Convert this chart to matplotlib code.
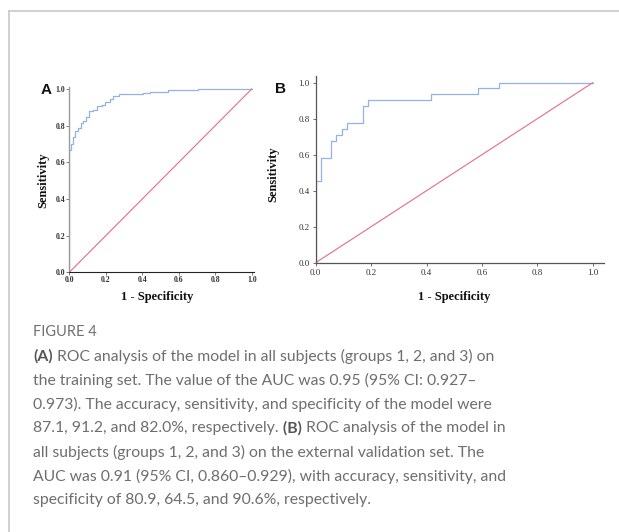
import matplotlib
matplotlib.use("Agg")
import matplotlib.pyplot as plt
from matplotlib.lines import Line2D

W, H = 619, 532

# ---- data ----
fpr_a = [0, 0, 0.009, 0.022, 0.031, 0.05, 0.064, 0.077, 0.089, 0.11, 0.13, 0.15,
         0.178, 0.196, 0.223, 0.241, 0.27, 0.406, 0.44, 0.54, 0.707, 1.0]
tpr_a = [0, 0.666, 0.70, 0.738, 0.77, 0.785, 0.816, 0.825, 0.847, 0.878, 0.885, 0.907,
         0.914, 0.929, 0.947, 0.962, 0.971, 0.976, 0.984, 0.994, 1.0, 1.0]

fpr_b = [0, 0, 0.019, 0.057, 0.075, 0.094, 0.113, 0.170, 0.189, 0.415, 0.585, 0.660, 1.0]
tpr_b = [0, 0.452, 0.581, 0.677, 0.710, 0.742, 0.774, 0.871, 0.903, 0.935, 0.968, 1.0, 1.0]

ref_line = [0, 1]
ticks = [0.0, 0.2, 0.4, 0.6, 0.8, 1.0]
tick_labels = ["0.0", "0.2", "0.4", "0.6", "0.8", "1.0"]

caption_title = "FIGURE 4"
caption_lines = [
    [("(A)", True), (" ROC analysis of the model in all subjects (groups 1, 2, and 3) on", False)],
    [("the training set. The value of the AUC was 0.95 (95% CI: 0.927–", False)],
    [("0.973). The accuracy, sensitivity, and specificity of the model were", False)],
    [("87.1, 91.2, and 82.0%, respectively.", False), (" (B)", True), (" ROC analysis of the model in", False)],
    [("all subjects (groups 1, 2, and 3) on the external validation set. The", False)],
    [("AUC was 0.91 (95% CI, 0.860–0.929), with accuracy, sensitivity, and", False)],
    [("specificity of 80.9, 64.5, and 90.6%, respectively.", False)],
]

CURVE = "#93b3e3"
DIAG = "#ea6b83"
SERIF = ["Liberation Serif", "DejaVu Serif"]

fig = plt.figure(figsize=(W / 100, H / 100), dpi=100)
fig.patch.set_facecolor("white")


def px(x, y):
    return x / W, 1 - y / H


# frame lines
fig.add_artist(Line2D([9 / W, 1.0], [1 - 11 / H, 1 - 11 / H], transform=fig.transFigure,
                      color="#c8c8c8", lw=1.2))
fig.add_artist(Line2D([9 / W, 9 / W], [1 - 11 / H, 0], transform=fig.transFigure,
                      color="#c8c8c8", lw=1.2))

# ---- panel A ----
x0, x1 = 69.3, 251.7
y0, y1 = 272.3, 89.0
xmax_a, ymax_a = 1.012, 1.01
axA = fig.add_axes([x0 / W, 1 - y0 / H, (x1 - x0) * xmax_a / W, (y0 - y1) * ymax_a / H])
axA.step(fpr_a, tpr_a, where="post", color=CURVE, lw=0.9)
axA.plot(ref_line, ref_line, color=DIAG, lw=0.8)
axA.set_xlim(0, xmax_a)
axA.set_ylim(0, ymax_a)
axA.set_xticks(ticks)
axA.set_yticks(ticks)
axA.set_xticklabels(tick_labels, fontfamily=SERIF, fontweight="bold", fontsize=5.6, color="#333")
axA.set_yticklabels(tick_labels, fontfamily=SERIF, fontweight="bold", fontsize=5.6, color="#333")
axA.tick_params(axis="both", length=2, width=0.6, pad=1, colors="#666", labelcolor="#333")
axA.spines["top"].set_visible(False)
axA.spines["right"].set_visible(False)
axA.spines["left"].set_color("#9a9a9a")
axA.spines["bottom"].set_color("#222")
axA.spines["left"].set_linewidth(1.0)
axA.spines["bottom"].set_linewidth(0.8)

fig.text(*px(46, 90), "A", fontfamily=["Liberation Sans", "DejaVu Sans"], fontweight="bold",
         fontsize=11, ha="center", va="center", color="#111")
fig.text(*px(43, 180), "Sensitivity", fontfamily=SERIF, fontweight="bold", fontsize=9,
         rotation=90, ha="center", va="center", color="#111")
fig.text(*px(157, 297), "1 - Specificity", fontfamily=SERIF, fontweight="bold", fontsize=9,
         ha="center", va="center", color="#111")

# ---- panel B ----
bx0, bx1 = 315.7, 592.7
by0, by1 = 262.7, 82.7
xmax_b, ymax_b = 1.041, 1.037
axB = fig.add_axes([bx0 / W, 1 - by0 / H, (bx1 - bx0) * xmax_b / W, (by0 - by1) * ymax_b / H])
axB.step(fpr_b, tpr_b, where="post", color=CURVE, lw=0.9)
axB.plot(ref_line, ref_line, color=DIAG, lw=0.8)
axB.set_xlim(0, xmax_b)
axB.set_ylim(0, ymax_b)
axB.set_xticks(ticks)
axB.set_yticks(ticks)
axB.set_xticklabels(tick_labels, fontfamily=SERIF, fontsize=6.5, color="#333")
axB.set_yticklabels(tick_labels, fontfamily=SERIF, fontsize=6.5, color="#333")
axB.tick_params(axis="both", length=2.5, width=0.6, pad=2, colors="#555", labelcolor="#333")
axB.spines["top"].set_visible(False)
axB.spines["right"].set_visible(False)
for s in ("left", "bottom"):
    axB.spines[s].set_color("#555")
    axB.spines[s].set_linewidth(0.9)

fig.text(*px(280, 89), "B", fontfamily=["Liberation Sans", "DejaVu Sans"], fontweight="bold",
         fontsize=11, ha="center", va="center", color="#111")
fig.text(*px(273, 174), "Sensitivity", fontfamily=SERIF, fontweight="bold", fontsize=9,
         rotation=90, ha="center", va="center", color="#111")
fig.text(*px(454, 297), "1 - Specificity", fontfamily=SERIF, fontweight="bold", fontsize=9,
         ha="center", va="center", color="#111")

# ---- caption ----
CAP_FONT = ["Lato", "DejaVu Sans"]
fig.text(*px(33, 332), caption_title, fontfamily=CAP_FONT, fontsize=10.5, color="#707070",
         ha="left", va="center")

renderer = fig.canvas.get_renderer()
line_ys = [356, 380, 404, 428, 452, 476, 500]
for runs, ly in zip(caption_lines, line_ys):
    xpos = 33.0
    for txt, bold in runs:
        t = fig.text(*px(xpos, ly), txt, fontfamily=CAP_FONT, fontsize=11.3,
                     fontweight="bold" if bold else "normal",
                     color="#555555" if bold else "#6e6e6e", ha="left", va="center")
        bb = t.get_window_extent(renderer)
        xpos = bb.x1

fig.savefig("out.png", dpi=100, facecolor="white")
